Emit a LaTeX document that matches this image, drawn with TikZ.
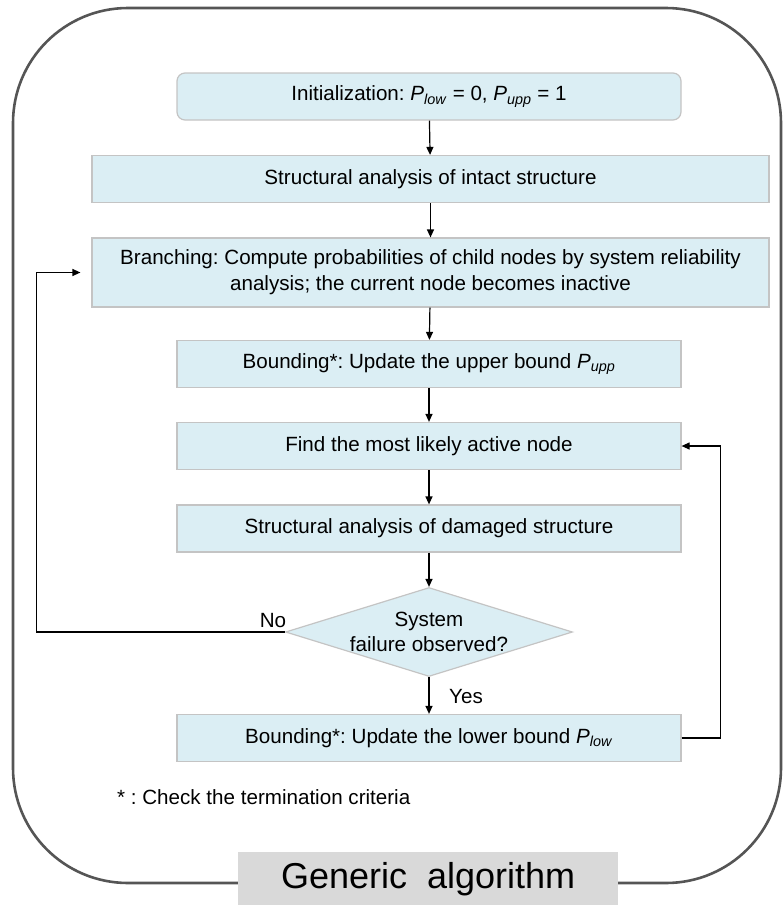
\documentclass[tikz,border=0pt]{standalone}
\usepackage{fontspec}
\setmainfont{Liberation Sans}
\frenchspacing
\usetikzlibrary{arrows.meta,shapes.geometric,calc}

\definecolor{boxfill}{RGB}{219,238,244}
\definecolor{boxline}{RGB}{196,196,196}
\definecolor{framegray}{RGB}{85,85,85}
\definecolor{titlefill}{RGB}{217,217,217}

\newcommand{\Pvar}[1]{\textit{P}\textsubscript{\textit{#1}}}

\tikzset{
  stepbox/.style={draw=boxline, fill=boxfill, line width=1.2pt,
    minimum height=47pt, inner sep=0pt, align=center,
    font=\fontsize{20.6}{26}\selectfont},
  narrowbox/.style={stepbox, minimum width=504pt},
  widebox/.style={stepbox, minimum width=677pt},
  decision/.style={diamond, draw=boxline, fill=boxfill, line width=1.2pt,
    shape aspect=3.2, minimum width=287pt, minimum height=89pt,
    inner sep=0pt, align=center,
    font=\fontsize{20.6}{25}\selectfont},
  flow/.style={draw=black, line width=1.2pt,
    -{Triangle[length=8pt,width=7pt]}},
  tag/.style={font=\fontsize{20.6}{24}\selectfont, inner sep=0pt},
}

\begin{document}
\begin{tikzpicture}[x=1pt,y=-1pt]
  \useasboundingbox (0,0) rectangle (784,905);

  % outer frame
  \draw[framegray, line width=2.6pt, rounded corners=115pt]
    (13,8) rectangle (781,883);

  % steps of the algorithm
  \node[narrowbox, rounded corners=8pt] (init) at (429,96.5)
    {Initialization: \Pvar{low} = 0, \Pvar{upp} = 1};
  \node[widebox] (intact) at (430.5,179)
    {Structural analysis of intact structure};
  \node[widebox, minimum height=69pt] (branch) at (430.5,272.5)
    {Branching: Compute probabilities of child nodes by system reliability\\
     analysis; the current node becomes inactive};
  \node[narrowbox] (upper) at (429,364)
    {Bounding*: Update the upper bound \Pvar{upp}};
  \node[narrowbox] (find) at (429,446)
    {Find the most likely active node};
  \node[narrowbox] (damaged) at (429,528.5)
    {Structural analysis of damaged structure};
  \node[decision] (decide) at (429,632)
    {System\\failure observed?};
  \node[narrowbox] (lower) at (429,738)
    {Bounding*: Update the lower bound \Pvar{low}};

  % main flow
  \draw[flow] (init) -- (intact);
  \draw[flow] (intact) -- (branch);
  \draw[flow] (branch) -- (upper);
  \draw[flow] (upper) -- (find);
  \draw[flow] (find) -- (damaged);
  \draw[flow] (damaged) -- (decide);
  \draw[flow] (decide) -- (lower);

  % loops
  \draw[flow, shorten >=11pt] (decide.west) -| ($(branch.west)+(-55,0)$) -- (branch.west);
  \draw[flow] (lower.east) -| ($(find.east)+(39,0)$) -- (find.east);

  % branch labels
  \node[tag] (no) at (273,621) {No};
  \node[tag] (yes) at (466,697) {Yes};

  % footnote
  \node[anchor=west, inner sep=0pt, font=\fontsize{20.6}{24}\selectfont] (note)
    at (117,797) {* : Check the termination criteria};

  % title tab
  \node[fill=titlefill, minimum width=380pt, minimum height=53pt,
    inner sep=0pt, anchor=north west, font=\fontsize{36}{40}\selectfont] (title)
    at (238,852) {Generic\ \ algorithm};
\end{tikzpicture}
\end{document}
